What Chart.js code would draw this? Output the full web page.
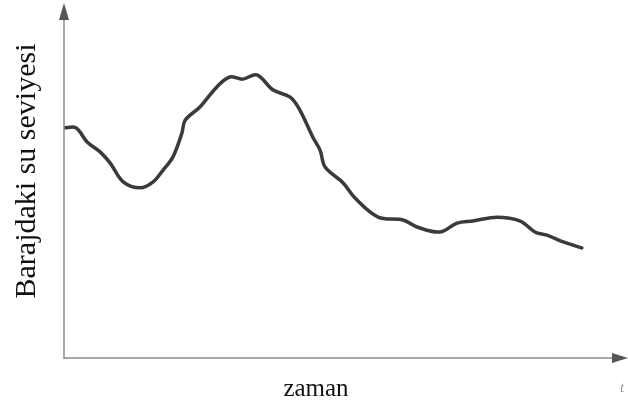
<!DOCTYPE html>
<html>
<head>
<meta charset="utf-8">
<script src="https://cdn.jsdelivr.net/npm/chart.js@4/dist/chart.umd.min.js"></script>
<style>
  html, body { margin: 0; padding: 0; background: #fff; }
  #wrap { width: 628px; height: 405px; }
</style>
</head>
<body>
<div id="wrap"><canvas id="levelChart"></canvas></div>
<script>
// time (0-100) and dam water level (0-100)
const times = [0, 2.1, 4.1, 6.4, 8.2, 10.5, 13.5, 15.8, 17.6, 19.3, 20.9, 21.5, 24.1, 27.1, 29.4, 31.7, 34.2, 37.1, 40.1, 41.8, 44.1, 45.4, 46.3, 49.5, 51.6, 55.7, 60.1, 62.6, 66.7, 69.7, 72.5, 76.8, 80.9, 83.5, 85.6, 88.5, 91.8];
const levels = [65.2, 65.2, 61.2, 58.4, 55.2, 49.9, 48.2, 49.9, 53.3, 56.9, 63.7, 67.4, 71.1, 76.8, 79.6, 79.0, 80.2, 75.9, 73.9, 70.3, 62.6, 58.9, 54.1, 49.6, 45.3, 39.9, 39.1, 37.1, 35.7, 38.2, 38.8, 39.9, 38.8, 35.7, 34.8, 32.9, 31.2];
const yTitle = 'Barajdaki su seviyesi';
const xTitle = 'zaman';
const xSymbol = 't';

const axisColor = '#8a8a8a';

const axesPlugin = {
  id: 'arrowAxes',
  afterDraw(chart) {
    const { ctx, chartArea, scales } = chart;
    const x0 = scales.x.getPixelForValue(0);
    const y0 = scales.y.getPixelForValue(0);
    ctx.save();
    ctx.strokeStyle = axisColor;
    ctx.fillStyle = '#555';
    ctx.lineWidth = 1.5;

    // y axis with arrow
    ctx.beginPath();
    ctx.moveTo(x0, y0 + 1);
    ctx.lineTo(x0, chartArea.top + 12);
    ctx.stroke();
    ctx.beginPath();
    ctx.moveTo(x0, chartArea.top - 2);
    ctx.lineTo(x0 - 5, chartArea.top + 15);
    ctx.lineTo(x0 + 5, chartArea.top + 15);
    ctx.closePath();
    ctx.fill();

    // x axis with arrow
    ctx.beginPath();
    ctx.moveTo(x0, y0);
    ctx.lineTo(chartArea.right - 12, y0);
    ctx.stroke();
    ctx.beginPath();
    ctx.moveTo(chartArea.right, y0);
    ctx.lineTo(chartArea.right - 16, y0 - 5);
    ctx.lineTo(chartArea.right - 16, y0 + 5);
    ctx.closePath();
    ctx.fill();

    // titles
    ctx.fillStyle = '#111';
    ctx.textAlign = 'center';
    ctx.textBaseline = 'alphabetic';
    ctx.font = '25px "Liberation Serif", serif';
    ctx.fillText(xTitle, 316, 396);

    ctx.save();
    ctx.translate(35, 171);
    ctx.rotate(-Math.PI / 2);
    ctx.font = '30px "Liberation Serif", serif';
    ctx.fillText(yTitle, 0, 0);
    ctx.restore();

    ctx.fillStyle = '#999';
    ctx.font = 'italic 15px "Liberation Serif", serif';
    ctx.fillText(xSymbol, 622, 392);
    ctx.restore();
  }
};

new Chart(document.getElementById('levelChart'), {
  type: 'line',
  data: {
    datasets: [{
      data: times.map((t, i) => ({ x: t, y: levels[i] })),
      borderColor: '#3a3a3a',
      borderWidth: 3.5,
      borderCapStyle: 'round',
      borderJoinStyle: 'round',
      pointRadius: 0,
      tension: 0.35,
      fill: false
    }]
  },
  options: {
    responsive: true,
    maintainAspectRatio: false,
    animation: false,
    layout: { padding: { left: 64, right: 0, top: 5, bottom: 47 } },
    plugins: { legend: { display: false }, tooltip: { enabled: false } },
    scales: {
      x: { type: 'linear', min: 0, max: 100, display: false },
      y: { min: 0, max: 100, display: false }
    }
  },
  plugins: [axesPlugin]
});
</script>
</body>
</html>
